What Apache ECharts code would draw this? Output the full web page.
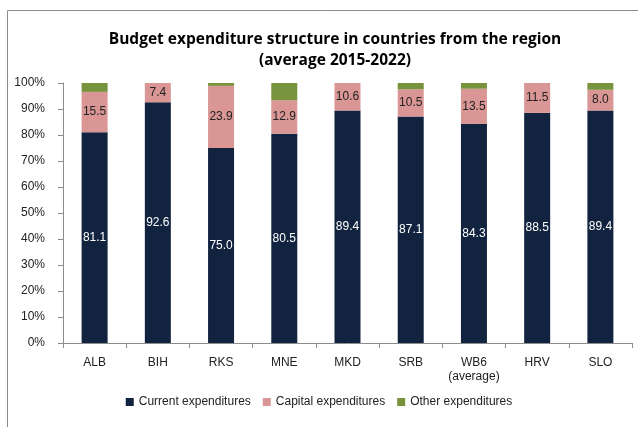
<!DOCTYPE html>
<html>
<head>
<meta charset="utf-8">
<script src="https://cdn.jsdelivr.net/npm/echarts@6/dist/echarts.min.js"></script>
<style>
  html, body { margin: 0; padding: 0; background: #fff; }
  #chart { width: 638px; height: 427px; }
</style>
</head>
<body>
<div id="chart"></div>
<script>
// categories and values (shares, %)
var countries = ['ALB', 'BIH', 'RKS', 'MNE', 'MKD', 'SRB', 'WB6\n(average)', 'HRV', 'SLO'];
var currentExp = [81.1, 92.6, 75.0, 80.5, 89.4, 87.1, 84.3, 88.5, 89.4];
var capitalExp = [15.5, 7.4, 23.9, 12.9, 10.6, 10.5, 13.5, 11.5, 8.0];
var otherExp = [3.4, 0, 1.1, 6.6, 0, 2.4, 2.2, 0, 2.6];

var font = "'Liberation Sans Narrow', 'Liberation Sans', sans-serif";

var chart = echarts.init(document.getElementById('chart'));
chart.setOption({
    animation: false,
    textStyle: { fontFamily: font },
    graphic: [{
        type: 'polyline',
        shape: { points: [[7.5, 440], [7.5, 10.5], [650, 10.5]] },
        style: { stroke: '#8c8c8c', lineWidth: 1, fill: null }
    }],
    title: {
        text: 'Budget expenditure structure in countries from the region\n(average 2015-2022)',
        left: 330,
        textAlign: 'center',
        top: 24,
        textStyle: { fontFamily: 'Open Sans', fontSize: 15.5, fontWeight: 'bold', color: '#000', lineHeight: 21 }
    },
    legend: {
        bottom: 14,
        left: 'center',
        itemWidth: 8,
        itemHeight: 8,
        itemGap: 12,
        icon: 'rect',
        textStyle: { fontFamily: font, fontSize: 12, color: '#222' },
        data: ['Current expenditures', 'Capital expenditures', 'Other expenditures']
    },
    grid: { left: 63, right: 6, top: 83, bottom: 84, containLabel: false },
    xAxis: {
        type: 'category',
        data: countries,
        axisLine: { lineStyle: { color: '#8c8c8c' } },
        axisTick: { show: true, length: 5, lineStyle: { color: '#8c8c8c' } },
        axisLabel: { interval: 0, fontFamily: font, fontSize: 12, color: '#222', margin: 13, lineHeight: 14 }
    },
    yAxis: {
        type: 'value',
        min: 0,
        max: 100,
        interval: 10,
        axisLine: { show: true, lineStyle: { color: '#8c8c8c' } },
        axisTick: { show: true, length: 5, lineStyle: { color: '#8c8c8c' } },
        splitLine: { show: false },
        axisLabel: { formatter: '{value}%', fontFamily: font, fontSize: 12, color: '#222', margin: 18 }
    },
    series: [{
        name: 'Current expenditures',
        type: 'bar',
        stack: 'total',
        barWidth: 26,
        data: currentExp,
        itemStyle: { color: '#12233f' },
        label: { show: true, position: 'inside', color: '#fff', fontFamily: font, fontSize: 12,
            formatter: function (p) { return p.value.toFixed(1); } }
    }, {
        name: 'Capital expenditures',
        type: 'bar',
        stack: 'total',
        data: capitalExp,
        itemStyle: { color: '#d99694' },
        label: { show: true, position: 'inside', color: '#222', fontFamily: font, fontSize: 12,
            formatter: function (p) { return p.value.toFixed(1); } }
    }, {
        name: 'Other expenditures',
        type: 'bar',
        stack: 'total',
        data: otherExp,
        itemStyle: { color: '#77933c' }
    }]
});
</script>
</body>
</html>
